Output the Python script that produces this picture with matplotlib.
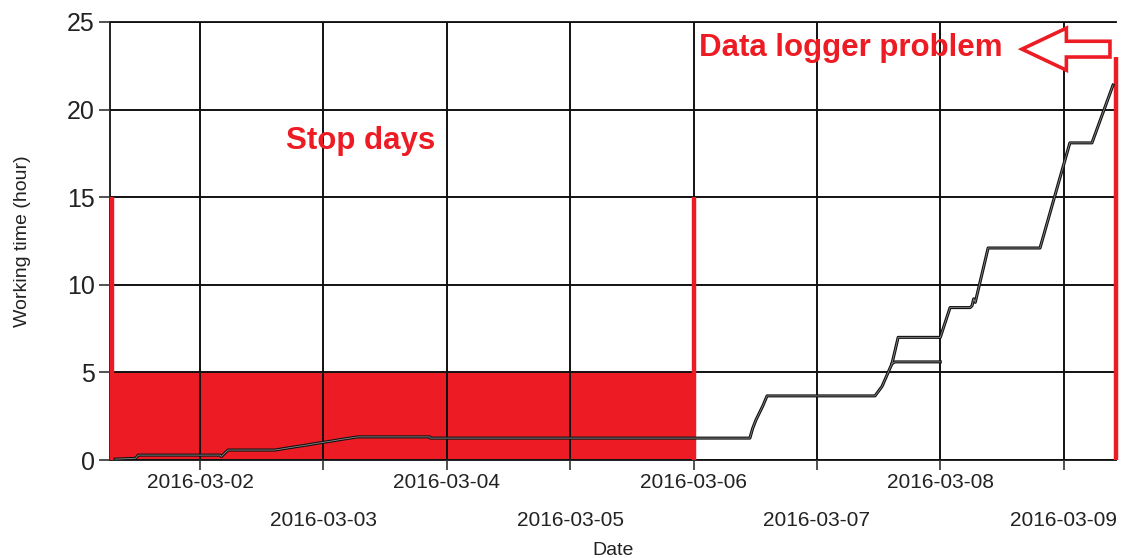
import matplotlib
matplotlib.use("Agg")
import matplotlib.pyplot as plt
import matplotlib.dates as mdates
from matplotlib.patches import FancyArrow
import pandas as pd

plt.rcParams['font.family'] = ['Liberation Sans', 'DejaVu Sans']

# ---- data -------------------------------------------------------------
main_times = ["2016-03-01 07:30", "2016-03-01 11:30", "2016-03-01 12:00",
              "2016-03-02 03:54", "2016-03-02 04:10", "2016-03-02 05:27",
              "2016-03-02 14:36", "2016-03-02 17:20", "2016-03-02 20:00",
              "2016-03-02 22:40", "2016-03-03 01:20", "2016-03-03 04:00",
              "2016-03-03 06:42", "2016-03-03 20:42", "2016-03-03 20:50",
              "2016-03-06 10:58", "2016-03-06 11:30", "2016-03-06 12:10",
              "2016-03-06 12:50", "2016-03-06 13:30", "2016-03-06 14:18",
              "2016-03-07 11:18", "2016-03-07 12:40", "2016-03-07 14:36",
              "2016-03-07 15:10", "2016-03-07 15:48", "2016-03-08 00:00",
              "2016-03-08 01:54", "2016-03-08 05:48", "2016-03-08 06:10",
              "2016-03-08 06:30", "2016-03-08 06:48", "2016-03-08 09:18",
              "2016-03-08 19:24", "2016-03-09 01:12", "2016-03-09 05:30",
              "2016-03-09 09:36"]
main_hours = [0.05, 0.1, 0.28,
              0.28, 0.2, 0.57,
              0.57, 0.7, 0.82,
              0.95, 1.07, 1.2,
              1.32, 1.32, 1.25,
              1.25, 1.8, 2.3,
              2.7, 3.1, 3.66,
              3.66, 4.2, 5.5,
              6.2, 7.0, 7.0,
              8.7, 8.7, 8.8,
              9.2, 9.0, 12.1,
              12.1, 18.1, 18.1,
              21.4]

branch_times = ["2016-03-07 14:36", "2016-03-07 15:10", "2016-03-08 00:00"]
branch_hours = [5.5, 5.6, 5.6]

stop_start = "2016-03-01 06:30"
stop_end = "2016-03-06 00:00"
stop_level = 5
stop_marker_height = 15
logger_time = "2016-03-09 10:05"
logger_marker_height = 23

tick_days = ["2016-03-02", "2016-03-03", "2016-03-04", "2016-03-05",
             "2016-03-06", "2016-03-07", "2016-03-08", "2016-03-09"]
y_ticks = [0, 5, 10, 15, 20, 25]

RED = "#ED1C24"
GRID = "#111111"

# ---- figure -----------------------------------------------------------
fig = plt.figure(figsize=(11.21, 5.58), dpi=100)
ax = fig.add_axes([0.0981, 0.1756, 0.8974, 0.785])

mt = pd.to_datetime(main_times)
bt = pd.to_datetime(branch_times)
x0 = pd.Timestamp(stop_start)
x1 = pd.Timestamp(logger_time)

ax.set_xlim(x0, pd.Timestamp("2016-03-09 10:10"))
ax.set_ylim(0, 25)

# stop-days block
ax.fill_between([x0, pd.Timestamp(stop_end)], 0, stop_level, color=RED,
                zorder=0.5, linewidth=0)
ax.plot([x0 + pd.Timedelta(minutes=20)] * 2, [0, stop_marker_height],
        color=RED, lw=3.2, zorder=3, clip_on=False, solid_capstyle='butt')
ax.plot([pd.Timestamp(stop_end)] * 2, [0, stop_marker_height],
        color=RED, lw=3.2, zorder=3, solid_capstyle='butt')
ax.plot([x1] * 2, [0, logger_marker_height],
        color=RED, lw=3.2, zorder=3, clip_on=False, solid_capstyle='butt')

# data lines
for t, v in ((mt, main_hours), (bt, branch_hours)):
    ax.plot(t, v, color="#111111", lw=2.2, zorder=4)
    ax.plot(t, v, color="#8a8a8a", lw=0.6, zorder=4.5)

# axes styling
ax.spines["right"].set_visible(False)
for s in ("top", "left", "bottom"):
    ax.spines[s].set_color("#222222")
    ax.spines[s].set_linewidth(1.4)

ax.set_yticks(y_ticks)
ax.tick_params(axis="y", labelsize=18, length=8, width=1.2, color="#333333",
               labelcolor="#222222", pad=3)

days = pd.to_datetime(tick_days)
major = days[::2]
minor = days[1::2]
ax.set_xticks(major)
ax.set_xticklabels([d.strftime("%Y-%m-%d") for d in major])
ax.set_xticks(minor, minor=True)
ax.set_xticklabels([d.strftime("%Y-%m-%d") for d in minor], minor=True)
ax.tick_params(axis="x", which="major", labelsize=15, length=7, width=1.2,
               color="#333333", labelcolor="#222222", pad=2)
ax.tick_params(axis="x", which="minor", labelsize=15, length=7, width=1.2,
               color="#333333", labelcolor="#222222", pad=30)

ax.set_axisbelow(False)
ax.yaxis.grid(True, color=GRID, lw=1.4, zorder=1.5)
for d in days:
    ax.axvline(d, color=GRID, lw=1.4, zorder=1.5)

ax.set_xlabel("Date", fontsize=14, color="#222222", labelpad=8)
ax.set_ylabel("Working time (hour)", fontsize=14, color="#222222", labelpad=26)

# annotations
ax.text(pd.Timestamp("2016-03-03 07:18"), 18.2, "Stop days", color=RED,
        fontsize=22.5, fontweight="bold", ha="center", va="center", zorder=6)
ax.text(pd.Timestamp("2016-03-07 06:36"), 23.5, "Data logger problem",
        color=RED, fontsize=22.5, fontweight="bold", ha="center",
        va="center", zorder=6)

tail = mdates.date2num(pd.Timestamp("2016-03-09 09:00"))
tip = mdates.date2num(pd.Timestamp("2016-03-08 15:53"))
arrow = FancyArrow(tail, 23.45, tip - tail, 0, width=0.9, head_width=2.4,
                   head_length=0.36, length_includes_head=True,
                   facecolor="white", edgecolor=RED, lw=2.6, zorder=7,
                   clip_on=False)
ax.add_patch(arrow)

fig.savefig("out.png", dpi=100)
